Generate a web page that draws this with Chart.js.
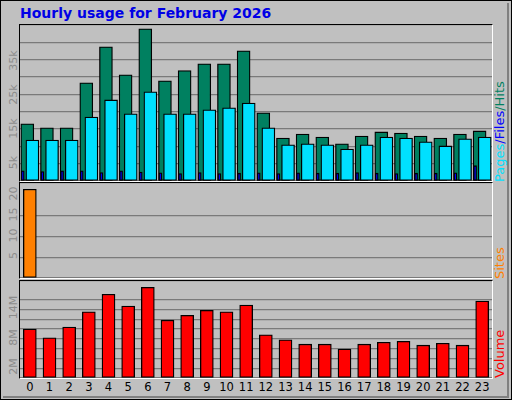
<!DOCTYPE html>
<html><head><meta charset="utf-8">
<script src="https://cdn.jsdelivr.net/npm/chart.js@4"></script>
<style>
body{margin:0;width:512px;height:400px;background:#fff;font-family:"DejaVu Sans",sans-serif;}
#frame{position:absolute;left:0;top:0;width:510px;height:398px;border:1px solid #000;background:#c0c0c0;}
#inner{position:absolute;left:2px;top:2px;width:504px;height:393px;border-right:2px solid #808080;border-bottom:2px solid #808080;}
#title{position:absolute;left:20px;top:5px;font-weight:bold;font-size:14px;color:#0000e6;}
.p{position:absolute;left:19px;width:472px;border-top:1px solid #000;border-left:1px solid #000;border-right:1px solid #fff;border-bottom:1px solid #fff;}
.p canvas{display:block}
.side{position:absolute;font-size:13px;transform:rotate(-90deg);transform-origin:left top;white-space:nowrap;}
.yl{position:absolute;font-size:11px;color:#8c8c8c;transform:rotate(-90deg);transform-origin:center;}
</style></head><body>
<div id="frame"><div id="inner"></div></div>
<div id="title">Hourly usage for February 2026</div>
<div class="p" style="top:24px;height:156px"><canvas id="c1" width="472" height="156"></canvas></div>
<div class="p" style="top:182px;height:95px"><canvas id="c2" width="472" height="95"></canvas></div>
<div class="p" style="top:280px;height:97px"><canvas id="c3" width="472" height="97"></canvas></div>
<div class="side" style="left:492px;top:182px"><span style="color:#00e0ff">Pages</span><span style="color:#0000ff">/Files</span><span style="color:#008060">/Hits</span></div>
<div class="side" style="left:492px;top:279px;color:#ff8000">Sites</div>
<div class="side" style="left:492px;top:378px;color:#ff0000">Volume</div>
<script>
const hours = ["0","1","2","3","4","5","6","7","8","9","10","11","12","13","14","15","16","17","18","19","20","21","22","23"];
const hits = [16800,15600,15600,28800,39400,31200,44700,29400,32400,34400,34400,38200,20000,12600,13800,12900,10900,13200,14400,14100,13200,12600,13800,14700];
const files = [12000,12000,12000,18800,23800,19700,26200,19700,19700,20900,21500,22900,15600,10600,10900,10600,9400,10600,12900,12600,11500,10300,12400,12900];
const pages = [3000,2800,3000,3000,2500,3000,2600,2400,2200,2500,2200,2300,2400,2200,2400,2300,2300,2500,2300,2200,2300,2300,2400,4500];
const sites = [21.4,0,0,0,0,0,0,0,0,0,0,0,0,0,0,0,0,0,0,0,0,0,0,0];
const volumeMB = [10,8.2,10.4,13.5,17.1,14.7,18.5,11.8,12.8,13.8,13.5,14.9,8.8,7.8,6.9,6.9,5.9,6.9,7.3,7.5,6.7,7.1,6.7,15.7];
const hitTicks = [5000,15000,25000,35000], hitLabels = ["5k","15k","25k","35k"];
const siteTicks = [5,10,15,20];
const volTicks = [2,8,14], volLabels = ["2M","8M","14M"];

const pts = (arr, off) => arr.map((v, i) => ({x: i + off, y: v}));
const yLabels = (ticks, labels) => ({
  id: 'yl', afterDraw(chart) {
    const s = chart.scales.y;
    const r = chart.canvas.getBoundingClientRect();
    ticks.forEach((t, i) => {
      const y = s.getPixelForValue(t);
      const el = document.createElement('div');
      el.className = 'yl'; el.textContent = labels[i];
      el.style.left = (r.left - 22) + 'px'; el.style.top = (r.top + y - 8) + 'px';
      el.style.width = '30px'; el.style.textAlign = 'center';
      document.body.appendChild(el);
    });
  }
});
const base = (ymax, step) => ({
  responsive: false, animation: false, events: [],
  layout: {padding: 0},
  plugins: {legend: {display: false}, tooltip: {enabled: false}},
  scales: {
    x: {type: 'linear', min: -0.5, max: 23.5, offset: false, display: false},
    y: {min: 0, max: ymax, grid: {color: '#7a7a7a', lineWidth: 1.3, drawTicks: false},
        border: {display: false}, ticks: {display: false, stepSize: step}}
  }
});
const bar = (data, color, w) => ({data, backgroundColor: color, borderColor: '#000', borderWidth: 1.3, barThickness: w, grouped: false, borderSkipped: false});

new Chart(document.getElementById('c1'), {
  type: 'bar',
  data: {datasets: [
    bar(pts(pages, -0.36), '#0000ff', 3),
    bar(pts(files, 0.13), '#00e0ff', 13),
    bar(pts(hits, -0.13), '#008060', 13)
  ]},
  options: base(45800, 5000),
  plugins: [yLabels(hitTicks, hitLabels)]
});
new Chart(document.getElementById('c2'), {
  type: 'bar',
  data: {datasets: [bar(pts(sites, 0), '#ff8000', 13)]},
  options: base(22.9, 5),
  plugins: [yLabels(siteTicks, siteTicks.map(String))]
});
const c3 = new Chart(document.getElementById('c3'), {
  type: 'bar',
  data: {datasets: [bar(pts(volumeMB, 0), '#ff0000', 13)]},
  options: base(19.8, 2),
  plugins: [yLabels(volTicks, volLabels)]
});
// hour labels under the volume panel
hours.forEach((h, i) => {
  const d = document.createElement('div');
  d.textContent = h;
  d.style.cssText = 'position:absolute;top:380px;width:24px;text-align:center;font-size:11.5px;left:' + (20 + c3.scales.x.getPixelForValue(i) - 12) + 'px';
  document.body.appendChild(d);
});
</script>
</body></html>
